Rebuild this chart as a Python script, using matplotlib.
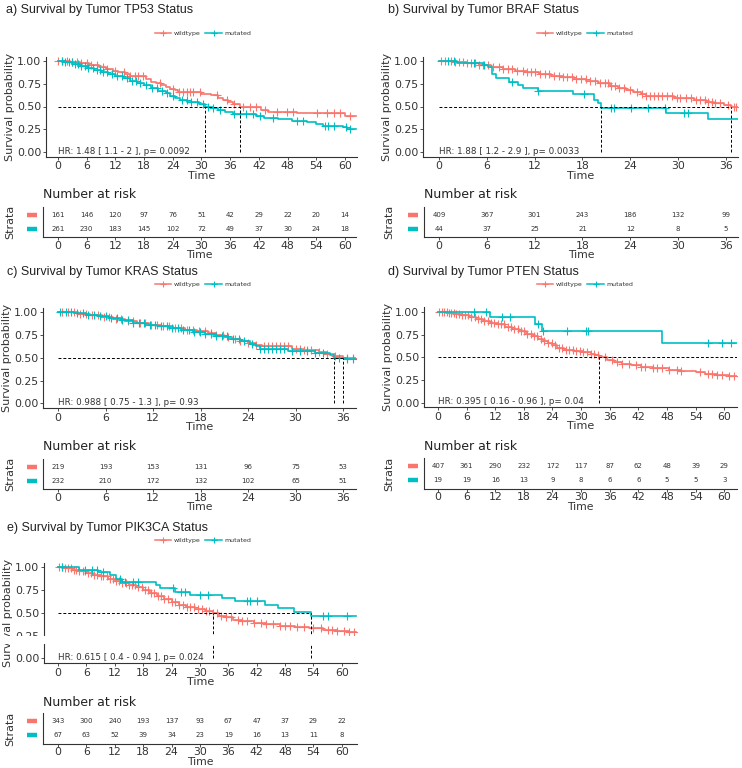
import numpy as np
import matplotlib
matplotlib.use('Agg')
import matplotlib.pyplot as plt
from matplotlib.lines import Line2D
from matplotlib.patches import Rectangle

W, H = 742, 768
RED = '#F8766D'
CYAN = '#00BFC4'
TXT = '#333333'
TITLE_FONT = ['Liberation Sans', 'DejaVu Sans']
plt.rcParams['font.family'] = ['DejaVu Sans']

groups = ['wildtype', 'mutated']

# ---------------- data ----------------
titles = ['a) Survival by Tumor TP53 Status', 'b) Survival by Tumor BRAF Status',
          'c) Survival by Tumor KRAS Status', 'd) Survival by Tumor PTEN Status',
          'e) Survival by Tumor PIK3CA Status']
hr_texts = ['HR: 1.48 [ 1.1 - 2 ], p= 0.0092', 'HR: 1.88 [ 1.2 - 2.9 ], p= 0.0033',
            'HR: 0.988 [ 0.75 - 1.3 ], p= 0.93', 'HR: 0.395 [ 0.16 - 0.96 ], p= 0.04',
            'HR: 0.615 [ 0.4 - 0.94 ], p= 0.024']

# Panel a (TP53)
a_wt_t = [0, 2.5, 4.5, 6.5, 8.5, 10.0, 11.5, 12.5, 14.0, 15.0, 18.5, 19.5, 20.5, 21.5, 22.5, 23.5, 24.5,
          25.0, 30.0, 32.0, 33.5, 34.5, 35.5, 36.5, 38.0, 42.5, 44.0, 50.0, 60.0]
a_wt_s = [1.0, 0.99, 0.975, 0.96, 0.94, 0.915, 0.895, 0.875, 0.855, 0.835, 0.80, 0.775, 0.755, 0.735, 0.715,
          0.695, 0.68, 0.665, 0.64, 0.625, 0.595, 0.57, 0.55, 0.53, 0.495, 0.465, 0.445, 0.425, 0.395]
a_wt_end = 62.4
a_wt_cens = [0.1, 0.8, 1.8, 2.9, 3.9, 4.9, 6.0, 7.0, 8.1, 9.5, 10.2, 11.9, 13.7, 15.1, 16.1, 16.8, 17.8, 21.3,
             24.1, 25.2, 26.2, 26.9, 27.6, 28.3, 29.7, 33.2, 35.3, 36.7, 38.7, 40.1, 41.5, 43.3, 45.7, 47.8,
             49.2, 54.1, 56.2, 57.6, 59.0, 61.0]
a_mu_t = [0, 1.5, 3, 4.5, 6, 7.5, 9, 10.5, 12, 13.5, 15, 16.5, 18, 19.5, 21, 22.5, 23.5, 24.5, 25.5, 27,
          29.5, 30.7, 32.5, 33.5, 35, 36.5, 41.5, 43, 46, 49, 52, 54, 55.5, 59.5, 60.5]
a_mu_s = [1.0, 0.985, 0.965, 0.945, 0.925, 0.90, 0.875, 0.855, 0.835, 0.81, 0.785, 0.76, 0.735, 0.705, 0.675,
          0.645, 0.62, 0.595, 0.57, 0.55, 0.525, 0.50, 0.485, 0.465, 0.44, 0.42, 0.395, 0.375, 0.36, 0.345,
          0.33, 0.31, 0.29, 0.27, 0.255]
a_mu_end = 62.4
a_mu_cens = [0.8, 1.5, 2.2, 2.9, 3.6, 4.2, 4.9, 5.6, 6.3, 7.4, 8.1, 8.8, 9.5, 10.2, 11.2, 12.3, 13.3, 14.4,
             15.4, 16.4, 17.1, 18.5, 19.6, 20.6, 21.7, 22.7, 24.1, 25.9, 26.9, 27.9, 29.0, 30.4, 31.4, 32.5,
             33.9, 36.7, 38.0, 39.4, 40.8, 42.2, 45.0, 49.9, 51.3, 55.8, 56.5, 57.6, 60.3, 61.0]
a_times = [0, 6, 12, 18, 24, 30, 36, 42, 48, 54, 60]
a_risk_wt = [161, 146, 120, 97, 76, 51, 42, 29, 22, 20, 14]
a_risk_mu = [261, 230, 183, 145, 102, 72, 49, 37, 30, 24, 18]

# Panel b (BRAF)
b_wt_t = [0, 2, 3.5, 5, 6.5, 8, 9.5, 11, 12.5, 14, 15.5, 17, 18.5, 20, 21.5, 22.5, 23.5, 24.3, 25.3, 26,
          29.5, 32, 33.5, 34.5, 35.8, 36.7]
b_wt_s = [1.0, 0.99, 0.975, 0.955, 0.935, 0.915, 0.895, 0.88, 0.86, 0.84, 0.82, 0.80, 0.78, 0.755, 0.73,
          0.705, 0.685, 0.66, 0.635, 0.615, 0.595, 0.575, 0.555, 0.535, 0.515, 0.495]
b_wt_end = 37.5
b_wt_cens = [0.2, 0.8, 1.5, 2, 2.5, 3, 3.5, 4, 4.5, 5, 5.5, 6.2, 6.8, 7.5, 8, 8.6, 9.2, 9.8, 10.5, 11, 11.5,
             12.1, 12.7, 13.3, 13.8, 14.4, 15, 15.5, 16.1, 16.7, 17.2, 17.8, 18.4, 19, 19.6, 20.2, 20.8,
             21.2, 21.6, 22.1, 22.6, 23.2, 24, 24.8, 25.5, 26, 26.5, 27, 27.5, 28, 28.6, 29.2, 29.8, 30.3,
             31, 31.6, 32.2, 32.8, 33.4, 33.8, 34.2, 34.6, 35.3, 36.2, 37, 37.3]
b_mu_t = [0, 2.3, 5.5, 6.1, 6.7, 7.2, 8.8, 9.9, 10.5, 12.4, 16.8, 19.5, 19.9, 20.3, 28.5, 33.7]
b_mu_s = [1.0, 0.977, 0.954, 0.93, 0.86, 0.81, 0.77, 0.736, 0.705, 0.672, 0.64, 0.57, 0.535, 0.48, 0.425, 0.36]
b_mu_end = 37.5
b_mu_cens = [1.1, 1.9, 4.4, 5.7, 9.2, 12.4, 18.2, 21.6, 22.0, 24.1, 26.2, 28.3, 30.8, 31.2]
b_times = [0, 6, 12, 18, 24, 30, 36]
b_risk_wt = [409, 367, 301, 243, 186, 132, 99]
b_risk_mu = [44, 37, 25, 21, 12, 8, 5]

# Panel c (KRAS)
c_wt_t = [0, 2.5, 4, 5.5, 7, 8.5, 10, 11.5, 13, 14.5, 16, 17.5, 19, 20, 21, 22, 23, 24, 25, 25.8, 29.5,
          31, 33, 34, 35, 36]
c_wt_s = [1.0, 0.985, 0.97, 0.95, 0.93, 0.905, 0.885, 0.865, 0.845, 0.825, 0.805, 0.79, 0.77, 0.75, 0.725,
          0.705, 0.685, 0.665, 0.645, 0.625, 0.60, 0.585, 0.565, 0.545, 0.52, 0.495]
c_wt_end = 37.6
c_wt_cens = [0.5, 1.2, 2, 2.8, 3.5, 4.3, 5, 5.8, 6.5, 7.3, 8, 8.8, 9.5, 10.3, 11, 11.8, 12.5, 13.2, 14, 14.8,
             15.5, 16.3, 17, 17.8, 18.5, 19.3, 20, 20.8, 21.5, 22.3, 23, 24, 25, 26, 26.5, 27, 27.5, 28,
             28.5, 29, 30, 30.5, 31, 31.5, 32, 33, 34, 35, 36.5, 37.3]
c_mu_t = [0, 2, 3.5, 5, 6.5, 8, 9.5, 11, 12.5, 14, 15.5, 17, 18.5, 20, 21.5, 23, 24.3, 25, 25.5, 29, 32.5,
          34.3, 34.9, 36.5]
c_mu_s = [1.0, 0.99, 0.975, 0.955, 0.935, 0.91, 0.885, 0.865, 0.845, 0.825, 0.80, 0.78, 0.76, 0.735, 0.71,
          0.685, 0.655, 0.625, 0.595, 0.575, 0.555, 0.53, 0.50, 0.485]
c_mu_end = 37.6
c_mu_cens = [0.3, 1, 1.7, 2.4, 3.1, 3.8, 4.6, 5.3, 6, 6.7, 7.4, 8.1, 8.8, 9.5, 10.2, 10.9, 11.6, 12.3, 13,
             13.7, 14.4, 15.1, 15.8, 16.5, 17.2, 17.9, 18.6, 19.3, 20, 20.7, 21.4, 22.1, 22.8, 23.5, 24.5,
             25.5, 26, 26.5, 27, 27.5, 28, 28.5, 29.5, 30.5, 31.5, 32.5, 33.5, 35.5, 36.5, 37.2]
c_times = [0, 6, 12, 18, 24, 30, 36]
c_risk_wt = [219, 193, 153, 131, 96, 75, 53]
c_risk_mu = [232, 210, 172, 132, 102, 65, 51]

# Panel d (PTEN)
d_wt_t = [0, 2, 3.5, 5, 6.5, 8, 9.5, 11, 12.5, 14, 15.5, 17, 18.5, 20, 21, 22, 23, 24, 25, 26.5, 28.5,
          30.5, 32, 33, 33.8, 35.5, 37, 38.5, 40.5, 42.5, 45, 48.5, 51, 54, 56, 58.5, 61]
d_wt_s = [1.0, 0.99, 0.975, 0.96, 0.945, 0.925, 0.90, 0.88, 0.86, 0.83, 0.81, 0.79, 0.76, 0.73, 0.705,
          0.68, 0.655, 0.63, 0.605, 0.585, 0.57, 0.555, 0.54, 0.52, 0.50, 0.47, 0.45, 0.43, 0.41, 0.395,
          0.38, 0.365, 0.35, 0.335, 0.32, 0.305, 0.29]
d_wt_end = 62.6
d_wt_cens = [0.3, 0.8, 1.3, 1.8, 2.3, 2.8, 3.3, 3.8, 4.3, 5, 5.7, 6.3, 7, 7.7, 8.4, 9, 9.7, 10.4, 11.1, 11.8,
             12.5, 13.2, 13.9, 14.6, 15.3, 16, 16.7, 17.4, 18, 18.7, 19.4, 20.1, 20.8, 21.5, 22.2, 23, 23.8,
             24.5, 25.3, 26, 26.8, 27.5, 28.3, 29, 29.8, 30.5, 31.3, 32, 32.8, 33.5, 35, 36.5, 37.5, 38.5,
             40, 41.5, 42.5, 43.5, 45, 46, 47, 48.5, 50, 51, 55, 56.5, 57.5, 58.5, 59.5, 61, 62]
d_mu_t = [0, 11, 20.3, 21.7, 46.9]
d_mu_s = [1.0, 0.944, 0.87, 0.786, 0.655]
d_mu_end = 62.6
d_mu_cens = [7.5, 10, 13.5, 15, 21, 22, 27, 31, 31.5, 56.5, 59.5, 61.5]
d_times = [0, 6, 12, 18, 24, 30, 36, 42, 48, 54, 60]
d_risk_wt = [407, 361, 290, 232, 172, 117, 87, 62, 48, 39, 29]
d_risk_mu = [19, 19, 16, 13, 9, 8, 6, 6, 5, 5, 3]

# Panel e (PIK3CA)
e_wt_t = [0, 1.5, 3, 4.5, 6, 7.5, 9, 10.5, 12, 13.5, 15, 16.5, 18, 19.5, 21, 22.5, 24, 25.5, 27, 29, 31,
          32.7, 34, 35.5, 37, 39, 41.5, 44, 47, 50, 53, 56, 59, 61.5]
e_wt_s = [1.0, 0.99, 0.975, 0.96, 0.94, 0.92, 0.90, 0.875, 0.85, 0.825, 0.805, 0.78, 0.75, 0.715, 0.685,
          0.655, 0.62, 0.585, 0.56, 0.54, 0.52, 0.495, 0.47, 0.45, 0.425, 0.405, 0.39, 0.375, 0.36, 0.345,
          0.33, 0.315, 0.30, 0.285]
e_wt_end = 63.0
e_wt_cens = [0.3, 0.9, 1.5, 2.1, 2.7, 3.3, 3.9, 4.5, 5.2, 5.8, 6.4, 7, 7.7, 8.3, 9, 9.6, 10.3, 11, 11.6,
             12.3, 13, 13.6, 14.3, 15, 15.6, 16.3, 17, 17.7, 18.4, 19, 19.7, 20.4, 21.1, 21.8, 22.5, 23.2,
             24, 24.8, 25.6, 26.4, 27.2, 28, 28.8, 29.6, 30.4, 31.2, 32, 32.8, 33.6, 34.4, 35.5, 36.5, 38,
             39, 40, 41.5, 43, 44, 45.5, 47, 48, 49, 50.5, 52, 54, 55.5, 57, 58, 59, 60.5, 61.5, 62.5]
e_mu_t = [0, 4.5, 8.5, 11, 12.3, 13.5, 20.8, 21.5, 24.7, 27.9, 34.6, 37.4, 43.7, 46.5, 49.9, 53.4]
e_mu_s = [1.0, 0.97, 0.95, 0.915, 0.875, 0.84, 0.805, 0.77, 0.73, 0.70, 0.66, 0.63, 0.585, 0.55, 0.51, 0.465]
e_mu_end = 63.0
e_mu_cens = [0.8, 5.7, 7.1, 8.2, 9.6, 13.1, 14.2, 15.9, 17, 24.4, 26.1, 26.8, 30, 31.8, 39.9, 40.6, 42,
             56, 57.1, 61]
e_times = [0, 6, 12, 18, 24, 30, 36, 42, 48, 54, 60]
e_risk_wt = [343, 300, 240, 193, 137, 93, 67, 47, 37, 29, 22]
e_risk_mu = [67, 63, 52, 39, 34, 23, 19, 16, 13, 11, 8]

# ---------------- layout (pixels) ----------------
layouts = [
    dict(title=(6, 10), leg=(203, 33), main=(46, 56.5, 357, 156.5), px0=58, ppm=4.783,
         table=(43, 206.6, 356, 237.4), nar=(43, 195), strata_x=10, bar=(27, 37)),
    dict(title=(388, 10), leg=(585, 33), main=(423, 56.5, 738, 156.5), px0=439, ppm=7.97,
         table=(424, 206.6, 738, 237.4), nar=(424, 195), strata_x=389, bar=(408, 418)),
    dict(title=(7, 272), leg=(203, 284), main=(43, 307.7, 356, 407.9), px0=58, ppm=7.92,
         table=(43, 458.6, 356, 489.4), nar=(43, 447), strata_x=10, bar=(27, 37)),
    dict(title=(388, 272), leg=(585, 284), main=(424, 307.2, 737, 407.3), px0=438, ppm=4.77,
         table=(424, 458, 737, 488.8), nar=(424, 446), strata_x=389, bar=(408, 418)),
    dict(title=(7, 528), leg=(203, 540), main=(44, 562.8, 357, 662.9), px0=58, ppm=4.73,
         table=(43, 713, 357, 743.8), nar=(43, 702), strata_x=10, bar=(27, 37)),
]

panels = [
    ((a_wt_t, a_wt_s, a_wt_end, a_wt_cens), (a_mu_t, a_mu_s, a_mu_end, a_mu_cens), a_times, a_risk_wt, a_risk_mu),
    ((b_wt_t, b_wt_s, b_wt_end, b_wt_cens), (b_mu_t, b_mu_s, b_mu_end, b_mu_cens), b_times, b_risk_wt, b_risk_mu),
    ((c_wt_t, c_wt_s, c_wt_end, c_wt_cens), (c_mu_t, c_mu_s, c_mu_end, c_mu_cens), c_times, c_risk_wt, c_risk_mu),
    ((d_wt_t, d_wt_s, d_wt_end, d_wt_cens), (d_mu_t, d_mu_s, d_mu_end, d_mu_cens), d_times, d_risk_wt, d_risk_mu),
    ((e_wt_t, e_wt_s, e_wt_end, e_wt_cens), (e_mu_t, e_mu_s, e_mu_end, e_mu_cens), e_times, e_risk_wt, e_risk_mu),
]

fig = plt.figure(figsize=(W / 100, H / 100), dpi=100)


def fbox(l, t, r, b):
    return [l / W, 1 - b / H, (r - l) / W, (b - t) / H]


def fx(x):
    return x / W


def fy(y):
    return 1 - y / H


def surv_at(t_ev, s_ev, tq):
    idx = np.searchsorted(np.asarray(t_ev), np.asarray(tq), side='right') - 1
    return np.asarray(s_ev)[idx]


def median(t_ev, s_ev):
    for t, s in zip(t_ev, s_ev):
        if s <= 0.5:
            return t
    return None


def style_axis(ax, labelsize, length=2.5, pad=1):
    for sp in ['top', 'right']:
        ax.spines[sp].set_visible(False)
    for sp in ['left', 'bottom']:
        ax.spines[sp].set_color(TXT)
        ax.spines[sp].set_linewidth(0.8)
    ax.tick_params(direction='out', length=length, width=0.6, color=TXT, labelcolor=TXT,
                   labelsize=labelsize, pad=pad)


for lay, (wt, mu, times, rwt, rmu), title, hr in zip(layouts, panels, titles, hr_texts):
    l, t, r, b = lay['main']
    px0, ppm = lay['px0'], lay['ppm']
    xlim = ((l - px0) / ppm, (r - px0) / ppm)
    ax = fig.add_axes(fbox(l, t, r, b))
    style_axis(ax, 7.8)
    ax.set_xlim(*xlim)
    ax.set_ylim(-0.05, 1.05)
    ax.set_yticks([0, 0.25, 0.5, 0.75, 1.0])
    ax.set_yticklabels(['0.00', '0.25', '0.50', '0.75', '1.00'])
    ax.set_xticks(times)
    ax.set_ylabel('Survival probability', fontsize=8, color=TXT, labelpad=1)
    ax.set_xlabel('Time', fontsize=8, color=TXT, labelpad=-0.5)
    meds = []
    for (tt, ss, end, cens), col in zip([wt, mu], [RED, CYAN]):
        ax.step(list(tt) + [end], list(ss) + [ss[-1]], where='post', color=col, lw=1.2, zorder=3)
        ax.plot(cens, surv_at(tt, ss, cens), ls='', marker='+', ms=6, mew=0.8, color=col, zorder=3)
        meds.append(median(tt, ss))
    valid = [m for m in meds if m is not None]
    hmax = xlim[1] if len(valid) < len(meds) else max(valid)
    ax.plot([0, hmax], [0.5, 0.5], ls=(0, (3, 2)), color='black', lw=0.7, zorder=4)
    for m in valid:
        ax.plot([m, m], [0, 0.5], ls=(0, (3, 2)), color='black', lw=0.7, zorder=4)
    ax.text(0, 0.01, hr, fontsize=6.3, color=TXT, ha='left', va='center')

    # title
    fig.text(fx(lay['title'][0]), fy(lay['title'][1]), title, fontsize=9, family=TITLE_FONT,
             ha='left', va='center', color='#222222')
    # legend
    handles = [Line2D([], [], color=RED, marker='+', ms=5, mew=0.8, lw=1.1),
               Line2D([], [], color=CYAN, marker='+', ms=5, mew=0.8, lw=1.1)]
    fig.legend(handles, groups, loc='center', bbox_to_anchor=(fx(lay['leg'][0]), fy(lay['leg'][1])),
               ncol=2, frameon=False, fontsize=4.5, handlelength=2.6, columnspacing=0.8,
               handletextpad=0.4, borderpad=0, labelcolor=TXT)

    # risk table
    tl, tt_, tr, tb = lay['table']
    txlim = ((tl - px0) / ppm, (tr - px0) / ppm)
    axt = fig.add_axes(fbox(tl, tt_, tr, tb))
    style_axis(axt, 7.8, length=2, pad=0.5)
    axt.set_xlim(*txlim)
    axt.set_ylim(0.4, 2.6)
    axt.set_yticks([])
    axt.set_xticks(times)
    axt.set_xlabel('Time', fontsize=7.8, color=TXT, labelpad=-0.5)
    for x, n1, n2 in zip(times, rwt, rmu):
        axt.text(x, 2, str(n1), fontsize=5, ha='center', va='center', color=TXT)
        axt.text(x, 1, str(n2), fontsize=5, ha='center', va='center', color=TXT)
    fig.text(fx(lay['nar'][0]), fy(lay['nar'][1]), 'Number at risk', fontsize=9, ha='left',
             va='center', color='#222222')
    rowc = (tt_ + tb) / 2
    fig.text(fx(lay['strata_x']), fy(rowc), 'Strata', fontsize=8, rotation=90, ha='center',
             va='center', color=TXT)
    row_h = (tb - tt_) / 2.2
    for k, col in zip([2, 1], [RED, CYAN]):
        ypx = tb - (k - 0.4) * row_h
        fig.add_artist(Line2D([fx(lay['bar'][0]), fx(lay['bar'][1])], [fy(ypx), fy(ypx)],
                              color=col, lw=3.2, solid_capstyle='butt'))

# white band overlapping panel e
fig.add_artist(Rectangle((0, fy(644)), fx(371), 8.5 / H, transform=fig.transFigure,
                         facecolor='white', edgecolor='none', zorder=10))

fig.savefig('out.png', dpi=100, facecolor='white')
